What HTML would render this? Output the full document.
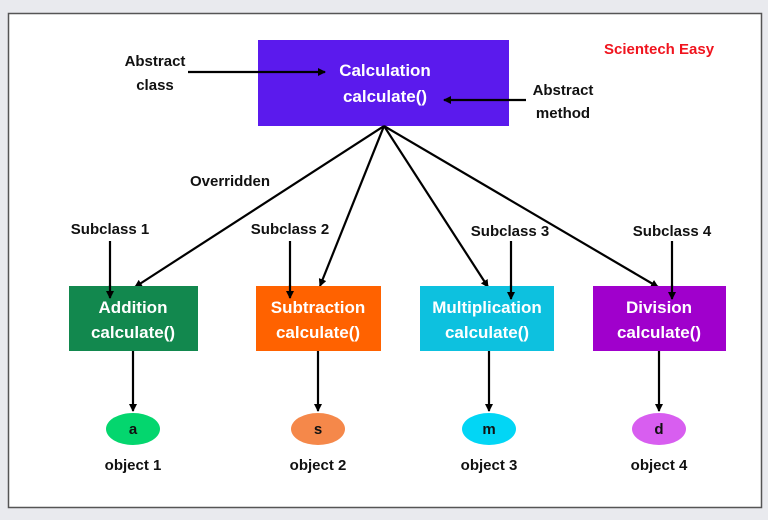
<!DOCTYPE html>
<html><head><meta charset="utf-8"><style>
html,body{margin:0;padding:0;background:#e9eaee;}
svg{display:block;font-family:"Liberation Sans",sans-serif;}
</style></head><body>
<svg width="768" height="520" viewBox="0 0 768 520" xmlns="http://www.w3.org/2000/svg">
<defs><marker id="a" markerWidth="8" markerHeight="8" refX="7" refY="4" orient="auto" markerUnits="userSpaceOnUse"><path d="M0,0 L8,4 L0,8 z" fill="#000"/></marker></defs>
<rect x="0" y="0" width="768" height="520" fill="#e9eaee"/>
<rect x="8.5" y="13.5" width="753" height="494" fill="#fff" stroke="#555" stroke-width="1.5"/>
<rect x="258" y="40" width="251" height="86" fill="#5b1aed"/>
<g fill="#fff" font-weight="bold" font-size="17" text-anchor="middle">
<text x="385" y="76">Calculation</text><text x="385" y="102">calculate()</text>
</g>
<text x="659" y="54" fill="#f0141e" font-size="15" font-weight="bold" text-anchor="middle">Scientech Easy</text>
<g font-size="15" font-weight="bold" fill="#111" text-anchor="middle">
<text x="155" y="66">Abstract</text><text x="155" y="90">class</text>
<text x="563" y="95">Abstract</text><text x="563" y="118">method</text>
<text x="230" y="186">Overridden</text>
<text x="110" y="234">Subclass 1</text><text x="290" y="234">Subclass 2</text>
<text x="510" y="236">Subclass 3</text><text x="672" y="236">Subclass 4</text>
<text x="133" y="470">object 1</text><text x="318" y="470">object 2</text>
<text x="489" y="470">object 3</text><text x="659" y="470">object 4</text>
</g>
<g stroke="#000" stroke-width="2.2" fill="none" marker-end="url(#a)">
<line x1="188" y1="72" x2="325" y2="72"/>
<line x1="526" y1="100" x2="444" y2="100"/>
<line x1="384" y1="126" x2="135" y2="287"/>
<line x1="384" y1="126" x2="320" y2="286"/>
<line x1="384" y1="126" x2="488" y2="287"/>
<line x1="384" y1="126" x2="658" y2="287"/>
<line x1="110" y1="241" x2="110" y2="298"/>
<line x1="290" y1="241" x2="290" y2="298"/>
<line x1="511" y1="241" x2="511" y2="299"/>
<line x1="672" y1="241" x2="672" y2="299"/>
<line x1="133" y1="351" x2="133" y2="411"/>
<line x1="318" y1="351" x2="318" y2="411"/>
<line x1="489" y1="351" x2="489" y2="411"/>
<line x1="659" y1="351" x2="659" y2="411"/>
</g>
<rect x="69" y="286" width="129" height="65" fill="#12884e"/>
<rect x="256" y="286" width="125" height="65" fill="#ff6200"/>
<rect x="420" y="286" width="134" height="65" fill="#0dc1df"/>
<rect x="593" y="286" width="133" height="65" fill="#a000cc"/>
<g stroke="#000" stroke-width="2.2" fill="none" marker-end="url(#a)">
<line x1="110" y1="285" x2="110" y2="298"/>
<line x1="290" y1="285" x2="290" y2="298"/>
<line x1="511" y1="285" x2="511" y2="299"/>
<line x1="672" y1="285" x2="672" y2="299"/>
</g>
<g fill="#fff" font-weight="bold" font-size="17" text-anchor="middle">
<text x="133" y="313">Addition</text><text x="133" y="338">calculate()</text>
<text x="318" y="313">Subtraction</text><text x="318" y="338">calculate()</text>
<text x="487" y="313">Multiplication</text><text x="487" y="338">calculate()</text>
<text x="659" y="313">Division</text><text x="659" y="338">calculate()</text>
</g>
<ellipse cx="133" cy="429" rx="27" ry="16" fill="#04d66e"/>
<ellipse cx="318" cy="429" rx="27" ry="16" fill="#f5884a"/>
<ellipse cx="489" cy="429" rx="27" ry="16" fill="#02d6f5"/>
<ellipse cx="659" cy="429" rx="27" ry="16" fill="#d85ef0"/>
<g font-size="15" font-weight="bold" fill="#111" text-anchor="middle">
<text x="133" y="434">a</text><text x="318" y="434">s</text><text x="489" y="434">m</text><text x="659" y="434">d</text>
</g>
</svg>
</body></html>
